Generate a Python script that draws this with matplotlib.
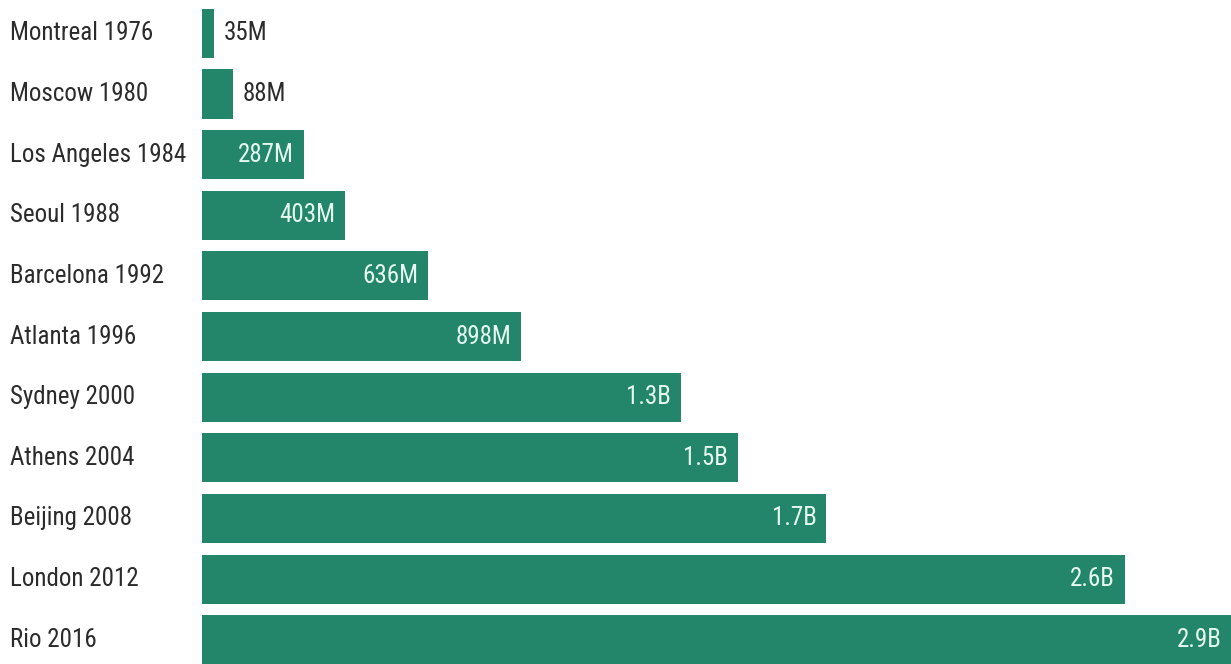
import matplotlib.pyplot as plt
from matplotlib import font_manager

games = ['Montreal 1976', 'Moscow 1980', 'Los Angeles 1984', 'Seoul 1988',
         'Barcelona 1992', 'Atlanta 1996', 'Sydney 2000', 'Athens 2004',
         'Beijing 2008', 'London 2012', 'Rio 2016']
# millions
values = [35, 88, 287, 403, 636, 898, 1350, 1510, 1760, 2600, 2900]
labels = ['35M', '88M', '287M', '403M', '636M', '898M',
          '1.3B', '1.5B', '1.7B', '2.6B', '2.9B']

names = {f.name for f in font_manager.fontManager.ttflist}
fam = 'Roboto'
size = 16
for cand in ['Roboto Condensed', 'Liberation Sans Narrow']:
    if cand in names:
        fam = cand
        size = 18
        break
plt.rcParams['font.family'] = [fam, 'DejaVu Sans']

green = '#23866a'

fig = plt.figure(figsize=(12.31, 6.64), dpi=100)
ax = fig.add_axes([202 / 1231, 0, 1 - 202 / 1231, 1])
y = list(range(len(games)))
ax.barh(y, values, height=0.81, color=green)
ax.set_xlim(0, 2900)
ax.set_ylim(10.4, -0.55)
ax.axis('off')

for i, (v, lab) in enumerate(zip(values, labels)):
    if v < 150:
        ax.annotate(lab, (v, i), xytext=(7, 0), textcoords='offset points',
                    ha='left', va='center', fontsize=size, color='#2b2b2b')
    else:
        ax.annotate(lab, (v, i), xytext=(-7, 0), textcoords='offset points',
                    ha='right', va='center', fontsize=size, color='#e6f7ef')
    ax.annotate(games[i], (0, i), xycoords=('figure fraction', 'data'),
                xytext=(7, 0), textcoords='offset points',
                ha='left', va='center', fontsize=size, color='#2b2b2b')

fig.savefig('out.png', dpi=100)
